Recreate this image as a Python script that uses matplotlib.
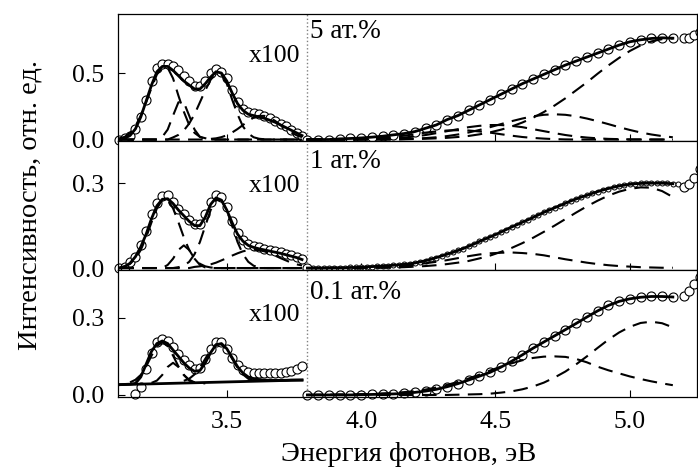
import numpy as np
import matplotlib
matplotlib.use('Agg')
from matplotlib import pyplot as plt

plt.rcParams['font.family'] = ['Liberation Serif', 'DejaVu Serif']

# energy grids, eV
xL = [3.10, 3.12, 3.14, 3.16, 3.18, 3.20, 3.22, 3.24, 3.26, 3.28, 3.30, 3.32,
      3.34, 3.36, 3.38, 3.40, 3.42, 3.44, 3.46, 3.48, 3.50, 3.52, 3.54, 3.56,
      3.58, 3.60, 3.62, 3.64, 3.66, 3.68, 3.70, 3.72, 3.74, 3.76, 3.78]
xR2 = [3.80, 3.82, 3.84, 3.86, 3.88, 3.90, 3.92, 3.94, 3.96, 3.98, 4.00, 4.02,
       4.04, 4.06, 4.08, 4.10, 4.12, 4.14, 4.16, 4.18, 4.20, 4.22, 4.24, 4.26,
       4.28, 4.30, 4.32, 4.34, 4.36, 4.38, 4.40, 4.42, 4.44, 4.46, 4.48, 4.50,
       4.52, 4.54, 4.56, 4.58, 4.60, 4.62, 4.64, 4.66, 4.68, 4.70, 4.72, 4.74,
       4.76, 4.78, 4.80, 4.82, 4.84, 4.86, 4.88, 4.90, 4.92, 4.94, 4.96, 4.98,
       5.00, 5.02, 5.04, 5.06, 5.08, 5.10, 5.12, 5.14, 5.16, 5.18]
xR = xR2[::2]
xT = [5.20, 5.22, 5.24, 5.26]

# ---- 5 at.% ----
p1_left = [0.00, 0.01, 0.03, 0.08, 0.17, 0.30, 0.44, 0.54, 0.57, 0.57, 0.55, 0.52,
           0.48, 0.44, 0.40, 0.40, 0.44, 0.50, 0.53, 0.51, 0.46, 0.37, 0.28, 0.23,
           0.21, 0.20, 0.19, 0.18, 0.16, 0.14, 0.12, 0.10, 0.07, 0.05, 0.03]
p1_left_fit = [0.00, 0.01, 0.03, 0.08, 0.17, 0.29, 0.41, 0.51, 0.55, 0.55, 0.52, 0.48,
               0.44, 0.41, 0.38, 0.38, 0.42, 0.47, 0.51, 0.50, 0.44, 0.35, 0.27, 0.22,
               0.19, 0.18, 0.17, 0.16, 0.145, 0.13, 0.11, 0.09, 0.07, 0.05, 0.03]
p1_ga = [0.01, 0.02, 0.05, 0.10, 0.18, 0.28, 0.39, 0.49, 0.54, 0.54, 0.46, 0.33,
         0.21, 0.11, 0.05, 0.02, 0.01] + [0] * 18
p1_gb = [0] * 8 + [0.02, 0.075, 0.18, 0.28, 0.28, 0.18, 0.075, 0.02, 0.005] + [0] * 18
p1_gc = [0] * 10 + [0.016, 0.035, 0.068, 0.12, 0.19, 0.28, 0.37, 0.45, 0.495, 0.49,
                    0.42, 0.30, 0.19, 0.099, 0.045, 0.017, 0.006, 0.002] + [0] * 7
p1_gd = [0] * 17 + [0.005, 0.009, 0.018, 0.032, 0.053, 0.079, 0.109, 0.14, 0.165,
                    0.178, 0.178, 0.165, 0.14, 0.109, 0.079, 0.053, 0.032, 0.018]
p1_right = [0.00, 0.00, 0.00, 0.005, 0.008, 0.012, 0.018, 0.025, 0.035, 0.045, 0.06,
            0.085, 0.11, 0.15, 0.18, 0.22, 0.26, 0.30, 0.34, 0.38, 0.42, 0.455, 0.49,
            0.525, 0.56, 0.59, 0.62, 0.65, 0.68, 0.71, 0.735, 0.75, 0.76, 0.765, 0.762]
p1_tail = [0.76, 0.765, 0.785, 0.81]
p1_d1 = [0] * 9 + [0.002, 0.004, 0.006, 0.009, 0.013, 0.019, 0.027, 0.039, 0.054,
                   0.074, 0.098, 0.128, 0.164, 0.207, 0.256, 0.31, 0.37, 0.43, 0.495,
                   0.557, 0.614, 0.666, 0.708, 0.738, 0.755, 0.76]
p1_d2 = [0] * 6 + [0.001, 0.001, 0.002, 0.004, 0.007, 0.011, 0.017, 0.026, 0.038,
                   0.053, 0.072, 0.093, 0.116, 0.138, 0.158, 0.175, 0.186, 0.19,
                   0.186, 0.175, 0.158, 0.138, 0.116, 0.093, 0.072, 0.053, 0.038,
                   0.026, 0.017]
p1_d3 = [0] * 4 + [0.001, 0.002, 0.003, 0.005, 0.009, 0.015, 0.023, 0.034, 0.048,
                   0.063, 0.078, 0.093, 0.103, 0.109, 0.109, 0.103, 0.093, 0.078,
                   0.063, 0.048, 0.034, 0.023, 0.015, 0.009, 0.005, 0.003, 0.001,
                   0.001] + [0] * 3
p1_d4 = [0] * 4 + [0.001, 0.003, 0.007, 0.012, 0.019, 0.029, 0.04, 0.052, 0.061,
                   0.068, 0.07, 0.068, 0.061, 0.052, 0.04, 0.029, 0.019, 0.012,
                   0.007, 0.003, 0.001] + [0] * 10

# ---- 1 at.% ----
p2_left = [0.00, 0.005, 0.02, 0.04, 0.08, 0.13, 0.19, 0.23, 0.255, 0.258, 0.235, 0.21,
           0.19, 0.17, 0.155, 0.155, 0.19, 0.235, 0.258, 0.25, 0.215, 0.165, 0.125,
           0.10, 0.085, 0.078, 0.073, 0.068, 0.064, 0.06, 0.055, 0.05, 0.045, 0.04,
           0.032]
p2_left_fit = [0.00, 0.005, 0.017, 0.04, 0.075, 0.12, 0.175, 0.22, 0.243, 0.245, 0.228,
               0.205, 0.185, 0.165, 0.15, 0.15, 0.18, 0.225, 0.248, 0.24, 0.205, 0.16,
               0.12, 0.095, 0.08, 0.073, 0.068, 0.064, 0.06, 0.056, 0.052, 0.047,
               0.042, 0.037, 0.03]
p2_ga = [0.001, 0.006, 0.015, 0.033, 0.064, 0.109, 0.162, 0.211, 0.241, 0.241, 0.211,
         0.162, 0.109, 0.064, 0.033, 0.015, 0.006, 0.002] + [0] * 17
p2_gb = [0] * 9 + [0.011, 0.033, 0.064, 0.08, 0.064, 0.033, 0.011, 0.002] + [0] * 18
p2_gc = [0] * 11 + [0.003, 0.008, 0.022, 0.049, 0.092, 0.149, 0.205, 0.24, 0.24,
                    0.205, 0.149, 0.092, 0.049, 0.022, 0.008, 0.003] + [0] * 8
p2_gd = [0] * 14 + [0.004, 0.006, 0.009, 0.013, 0.019, 0.027, 0.035, 0.044, 0.052,
                    0.059, 0.063, 0.065, 0.063, 0.059, 0.052, 0.044, 0.035, 0.027,
                    0.019, 0.013, 0.009]
p2_right = [0.000, 0.000, 0.000, 0.000, 0.000, 0.001, 0.001, 0.001, 0.002, 0.002,
            0.003, 0.004, 0.005, 0.006, 0.007, 0.008, 0.010, 0.011, 0.013, 0.015,
            0.018, 0.022, 0.026, 0.031, 0.037, 0.043, 0.049, 0.055, 0.062, 0.069,
            0.077, 0.085, 0.094, 0.102, 0.110, 0.118, 0.127, 0.136, 0.145, 0.153,
            0.162, 0.170, 0.179, 0.188, 0.197, 0.205, 0.213, 0.221, 0.229, 0.237,
            0.244, 0.251, 0.257, 0.264, 0.270, 0.276, 0.281, 0.286, 0.290, 0.293,
            0.296, 0.298, 0.299, 0.300, 0.300, 0.300, 0.300, 0.299, 0.298, 0.296]
p2_tail = [0.288, 0.298, 0.318, 0.35]
p2_d1 = [0] * 5 + [0.001, 0.001, 0.001, 0.002, 0.003, 0.005, 0.007, 0.010, 0.014,
                   0.019, 0.025, 0.034, 0.044, 0.057, 0.071, 0.088, 0.107, 0.128,
                   0.15, 0.173, 0.196, 0.218, 0.238, 0.256, 0.27, 0.28, 0.285, 0.284,
                   0.272, 0.251]
p2_d2 = [0] * 5 + [0.001, 0.002, 0.003, 0.005, 0.008, 0.012, 0.017, 0.022, 0.028,
                   0.035, 0.042, 0.048, 0.052, 0.054, 0.055, 0.053, 0.05, 0.045,
                   0.038, 0.031, 0.025, 0.019, 0.014, 0.01, 0.007, 0.005, 0.003,
                   0.002, 0.001, 0.001]

# ---- 0.1 at.% ----
p3_left = [0.005, 0.03, 0.10, 0.165, 0.205, 0.218, 0.21, 0.185, 0.16, 0.135, 0.115,
           0.10, 0.105, 0.14, 0.18, 0.205, 0.205, 0.18, 0.145, 0.115, 0.098, 0.09,
           0.086, 0.085, 0.084, 0.084, 0.085, 0.087, 0.09, 0.094, 0.10, 0.112]
p3_left_fit = [0.040, 0.041, 0.042, 0.045, 0.07, 0.12, 0.17, 0.20, 0.21, 0.20, 0.175,
               0.15, 0.125, 0.105, 0.092, 0.095, 0.125, 0.165, 0.195, 0.20, 0.18,
               0.145, 0.11, 0.085, 0.07, 0.063, 0.06, 0.058, 0.057, 0.057, 0.057,
               0.057, 0.058, 0.058, 0.058]
p3_base = [0.040, 0.058]
p3_ga = [0.049, 0.059, 0.078, 0.111, 0.153, 0.19, 0.205, 0.19, 0.153, 0.111, 0.078,
         0.059, 0.049, 0.046, 0.045]
p3_gb = [0.047, 0.056, 0.078, 0.109, 0.125, 0.109, 0.078, 0.056, 0.047, 0.046]
p3_gc = [0.055, 0.063, 0.08, 0.106, 0.141, 0.175, 0.197, 0.197, 0.175, 0.141, 0.106,
         0.08, 0.063, 0.055]
p3_right = [0, 0, 0, 0, 0, 0.001, 0.002, 0.003, 0.004, 0.006, 0.010, 0.015, 0.022,
            0.032, 0.044, 0.058, 0.073, 0.088, 0.108, 0.131, 0.156, 0.182, 0.206,
            0.230, 0.254, 0.278, 0.303, 0.327, 0.348, 0.364, 0.374, 0.380, 0.383,
            0.383, 0.381]
p3_tail = [0.385, 0.405, 0.43, 0.46]
p3_d1 = [0] * 14 + [0.001, 0.002, 0.003, 0.005, 0.009, 0.014, 0.022, 0.033, 0.048,
                    0.068, 0.091, 0.119, 0.15, 0.183, 0.215, 0.243, 0.265, 0.28,
                    0.285, 0.279, 0.263]
p3_d2 = [0, 0.001, 0.001, 0.002, 0.002, 0.003, 0.004, 0.006, 0.008, 0.011, 0.015,
         0.021, 0.029, 0.039, 0.051, 0.064, 0.079, 0.095, 0.11, 0.123, 0.135, 0.144,
         0.149, 0.150, 0.148, 0.140, 0.127, 0.11, 0.096, 0.084, 0.072, 0.062, 0.053,
         0.045, 0.038]

labels = ['5 ат.%', '1 ат.%', '0.1 ат.%']
yticks = [[0.0, 0.5], [0.0, 0.3], [0.0, 0.3]]
ylims = [(-0.011, 0.944), (-0.007, 0.449), (-0.008, 0.486)]
xticks = [3.5, 4.0, 4.5, 5.0]

TFS = 18.5   # tick labels
NFS = 19.5   # in-panel notes
LFS = 20.5   # axis labels
big = dict(ls='none', marker='o', ms=6.5, mfc='white', mec='black', mew=0.8,
           zorder=2, clip_on=False)
small = dict(ls='none', marker='o', ms=3.6, mfc='white', mec='black', mew=0.7,
             zorder=2)
fitkw = dict(color='black', lw=2.0, zorder=4)
dkw = dict(color='black', lw=1.5, dashes=(7, 4), zorder=3)

fig = plt.figure(figsize=(6.98, 4.70), dpi=100)
bottoms = [0.700, 0.4255, 0.1553]
heights = [0.2702, 0.2745, 0.2702]
axes = [fig.add_axes([0.169, b, 0.8296, h]) for b, h in zip(bottoms, heights)]

ax = axes[0]
ax.plot(xL, p1_left, **big)
for comp in (p1_ga, p1_gb, p1_gc, p1_gd):
    ax.plot(xL, comp, **dkw)
ax.plot(xL, p1_left_fit, **fitkw)
ax.plot(xR, p1_right, **big)
ax.plot(xT, p1_tail, **big)
for comp in (p1_d1, p1_d2, p1_d3, p1_d4):
    ax.plot(xR, comp, **dkw)
ax.plot(xR, p1_right, **fitkw)

ax = axes[1]
ax.plot(xL, p2_left, **big)
for comp in (p2_ga, p2_gb, p2_gc, p2_gd):
    ax.plot(xL, comp, **dkw)
ax.plot(xL, p2_left_fit, **fitkw)
ax.plot(xR2, p2_right, **small)
ax.plot(xR2[:1], p2_right[:1], **big)
ax.plot(xT, p2_tail, **big)
for comp in (p2_d1, p2_d2):
    ax.plot(xR, comp, **dkw)
ax.plot(xR2[:-1], p2_right[:-1], **fitkw)

ax = axes[2]
ax.plot(xL[3:], p3_left, **big)
ax.plot([xL[0], xL[-1]], p3_base, **fitkw)
ax.plot(xL[2:17], p3_ga, **dkw)
ax.plot(xL[6:16], p3_gb, **dkw)
ax.plot(xL[12:26], p3_gc, **dkw)
ax.plot(xL, p3_left_fit, **fitkw)
ax.plot(xR, p3_right, **big)
ax.plot(xT, p3_tail, **big)
for comp in (p3_d1, p3_d2):
    ax.plot(xR, comp, **dkw)
ax.plot(xR, p3_right, **fitkw)

for i, ax in enumerate(axes):
    ax.set_xlim(3.095, 5.25)
    ax.set_ylim(*ylims[i])
    ax.axvline(3.8, color='gray', ls=':', lw=1.0, zorder=1)
    ax.set_yticks(yticks[i])
    ax.set_yticklabels(['%.1f' % t for t in yticks[i]])
    ax.set_xticks(xticks)
    ax.tick_params(direction='in', length=5, width=0.8, labelsize=TFS, pad=10)
    if i < 2:
        ax.set_xticklabels([])
    else:
        ax.set_xticklabels(['%.1f' % t for t in xticks])
    for s in ax.spines.values():
        s.set_linewidth(0.9)
    ax.text(3.81, [0.81, 0.375, 0.40][i], labels[i], fontsize=NFS,
            ha='left', va='center')
    ax.text(3.775, [0.63, 0.29, 0.31][i], 'x100', fontsize=TFS,
            ha='right', va='center')

fig.text(0.043, 0.564, 'Интенсивность, отн. ед.', rotation=90, fontsize=LFS,
         ha='center', va='center')
fig.text(0.585, 0.032, 'Энергия фотонов, эВ', fontsize=LFS, ha='center',
         va='center')

fig.savefig('out.png', dpi=100)
